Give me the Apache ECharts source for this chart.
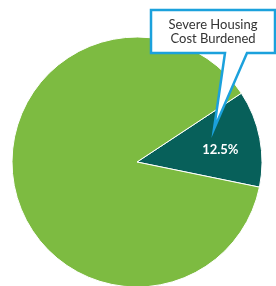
<!DOCTYPE html>
<html>
<head>
<meta charset="utf-8">
<script src="https://cdn.jsdelivr.net/npm/echarts@6/dist/echarts.min.js"></script>
<style>
  html, body { margin: 0; padding: 0; background: #fff; }
  #main { width: 276px; height: 286px; }
</style>
</head>
<body>
<div id="main"></div>
<script>
var names = ['Severe Housing Cost Burdened', 'Other'];
var values = [12.5, 87.5];
var colors = ['#07605a', '#7dbb41'];
var calloutText = ['Severe Housing', 'Cost Burdened'];

var chart = echarts.init(document.getElementById('main'));

var pieData = names.map(function (n, i) {
  return {
    name: n,
    value: values[i],
    itemStyle: { color: colors[i] },
    label: { show: i === 0 }
  };
});

chart.setOption({
  animation: false,
  series: [{
    type: 'pie',
    center: [137, 162],
    radius: 125,
    startAngle: 33.4,
    clockwise: true,
    data: pieData,
    itemStyle: { borderColor: '#fff', borderWidth: 1 },
    label: {
      position: 'inside',
      offset: [19, 0],
      formatter: '{c}%',
      color: '#fff',
      fontFamily: 'Lato',
      fontSize: 13,
      fontWeight: 'bold'
    },
    labelLine: { show: false },
    emphasis: { disabled: true }
  }],
  graphic: [{
    type: 'polygon',
    shape: {
      points: [[151, 10], [275, 10], [275, 53], [247, 53], [214, 129], [225, 53], [151, 53]]
    },
    style: { fill: '#fff', stroke: '#1ba1dc', lineWidth: 2.5, lineJoin: 'miter' },
    z: 10
  }, {
    type: 'text',
    x: 213,
    y: 32,
    style: {
      text: calloutText.join('\n'),
      fill: '#333',
      font: '13px Lato',
      lineHeight: 14,
      align: 'center',
      verticalAlign: 'middle'
    },
    z: 11
  }]
});
</script>
</body>
</html>
